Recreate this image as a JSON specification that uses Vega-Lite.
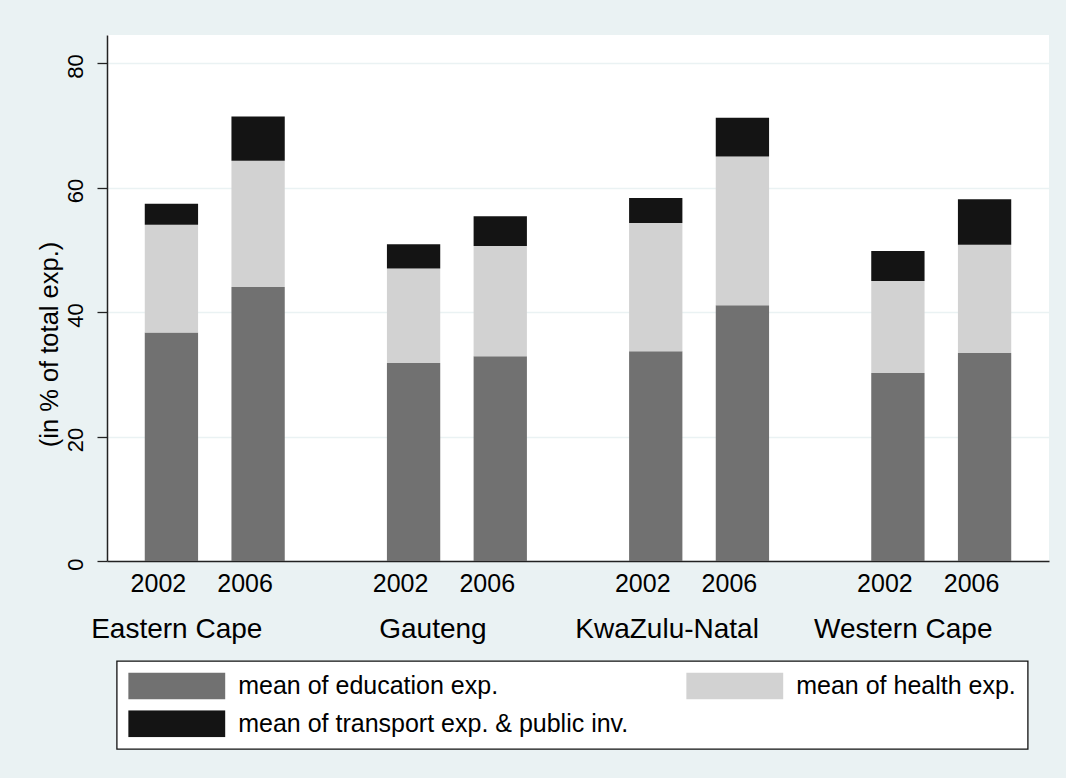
{
  "$schema": "https://vega.github.io/schema/vega-lite/v6.json",
  "width": 942,
  "height": 526,
  "autosize": {"type": "none"},
  "padding": {"left": 107, "top": 35, "right": 17, "bottom": 217},
  "background": "#EAF2F3",
  "config": {
    "font": "Liberation Sans",
    "view": {"fill": "white", "stroke": null},
    "legend": {"strokeWidth": 1.3}
  },
  "data": {
    "values": [
      {"province": "Eastern Cape", "year": "2002", "component": "mean of education exp.", "value": 36.7},
      {"province": "Eastern Cape", "year": "2002", "component": "mean of health exp.", "value": 17.3},
      {"province": "Eastern Cape", "year": "2002", "component": "mean of transport exp. & public inv.", "value": 3.4},
      {"province": "Eastern Cape", "year": "2006", "component": "mean of education exp.", "value": 44.0},
      {"province": "Eastern Cape", "year": "2006", "component": "mean of health exp.", "value": 20.3},
      {"province": "Eastern Cape", "year": "2006", "component": "mean of transport exp. & public inv.", "value": 7.1},
      {"province": "Gauteng", "year": "2002", "component": "mean of education exp.", "value": 31.8},
      {"province": "Gauteng", "year": "2002", "component": "mean of health exp.", "value": 15.2},
      {"province": "Gauteng", "year": "2002", "component": "mean of transport exp. & public inv.", "value": 3.9},
      {"province": "Gauteng", "year": "2006", "component": "mean of education exp.", "value": 32.9},
      {"province": "Gauteng", "year": "2006", "component": "mean of health exp.", "value": 17.7},
      {"province": "Gauteng", "year": "2006", "component": "mean of transport exp. & public inv.", "value": 4.8},
      {"province": "KwaZulu-Natal", "year": "2002", "component": "mean of education exp.", "value": 33.7},
      {"province": "KwaZulu-Natal", "year": "2002", "component": "mean of health exp.", "value": 20.6},
      {"province": "KwaZulu-Natal", "year": "2002", "component": "mean of transport exp. & public inv.", "value": 4.0},
      {"province": "KwaZulu-Natal", "year": "2006", "component": "mean of education exp.", "value": 41.1},
      {"province": "KwaZulu-Natal", "year": "2006", "component": "mean of health exp.", "value": 23.9},
      {"province": "KwaZulu-Natal", "year": "2006", "component": "mean of transport exp. & public inv.", "value": 6.2},
      {"province": "Western Cape", "year": "2002", "component": "mean of education exp.", "value": 30.2},
      {"province": "Western Cape", "year": "2002", "component": "mean of health exp.", "value": 14.8},
      {"province": "Western Cape", "year": "2002", "component": "mean of transport exp. & public inv.", "value": 4.8},
      {"province": "Western Cape", "year": "2006", "component": "mean of education exp.", "value": 33.4},
      {"province": "Western Cape", "year": "2006", "component": "mean of health exp.", "value": 17.4},
      {"province": "Western Cape", "year": "2006", "component": "mean of transport exp. & public inv.", "value": 7.3}
    ]
  },
  "layer": [
    {
      "mark": {"type": "bar"},
      "encoding": {
        "x": {
          "field": "province",
          "type": "nominal",
          "sort": null,
          "scale": {"paddingInner": 0.2, "paddingOuter": 0.045},
          "axis": {
            "title": null,
            "domain": true,
            "domainColor": "#222222",
            "domainWidth": 1.5,
            "ticks": false,
            "tickSize": 0,
            "grid": false,
            "labelAngle": 0,
            "labelFontSize": 28,
            "labelColor": "black",
            "labelLimit": 500,
            "labelPadding": 76,
            "labelBaseline": "alphabetic",
            "labelOffset": {
              "condition": [
                {"test": "datum.value === 'Gauteng'", "value": -24},
                {"test": "datum.value === 'KwaZulu-Natal'", "value": -32}
              ],
              "value": -38
            }
          }
        },
        "xOffset": {
          "field": "year",
          "type": "nominal",
          "scale": {"paddingInner": 0.385, "paddingOuter": 0.31}
        },
        "y": {
          "field": "value",
          "type": "quantitative",
          "stack": "zero",
          "scale": {"domain": [0, 84.5], "nice": false},
          "axis": {
            "title": "(in % of total exp.)",
            "values": [0, 20, 40, 60, 80],
            "grid": true,
            "gridColor": "#EAF2F3",
            "gridWidth": 1.5,
            "domainColor": "#222222",
            "domainWidth": 1.5,
            "tickColor": "#222222",
            "tickSize": 10,
            "tickWidth": 1.3,
            "labelAngle": 270,
            "labelAlign": "center",
            "labelBaseline": "alphabetic",
            "labelPadding": 15,
            "labelFontSize": 22,
            "labelColor": "black",
            "labelOffset": 3,
            "labelFlush": false,
            "titleFontSize": 25.5,
            "titleFontWeight": "normal",
            "titleColor": "black",
            "titleAngle": 270,
            "titleX": -50,
            "titleY": 309,
            "titleAlign": "center",
            "titleBaseline": "alphabetic"
          }
        },
        "order": {"field": "component", "sort": "ascending"},
        "color": {
          "field": "component",
          "type": "nominal",
          "scale": {
            "domain": ["mean of education exp.", "mean of transport exp. & public inv.", "mean of health exp."],
            "range": ["#717171", "#141414", "#D2D2D2"]
          },
          "legend": {
            "orient": "none",
            "legendX": 9.7,
            "legendY": 626,
            "title": null,
            "columns": 2,
            "columnPadding": 57,
            "rowPadding": 10.7,
            "symbolType": "M-1,-0.278H1V0.278H-1Z",
            "symbolSize": 9409,
            "clipHeight": 27,
            "symbolStrokeWidth": 0,
            "symbolOpacity": 1,
            "labelFontSize": 25,
            "labelOffset": 13,
            "labelColor": "black",
            "labelLimit": 700,
            "padding": 11.5,
            "strokeColor": "#111111",
            "fillColor": "white"
          }
        }
      }
    },
    {
      "transform": [{"filter": "datum.component === 'mean of education exp.'"}],
      "mark": {"type": "text", "dx": -13, "dy": 31, "baseline": "alphabetic", "align": "center", "fontSize": 25, "color": "black"},
      "encoding": {
        "x": {"field": "province", "type": "nominal", "sort": null},
        "xOffset": {"field": "year", "type": "nominal"},
        "y": {"datum": 0, "type": "quantitative"},
        "text": {"field": "year"}
      }
    }
  ]
}
